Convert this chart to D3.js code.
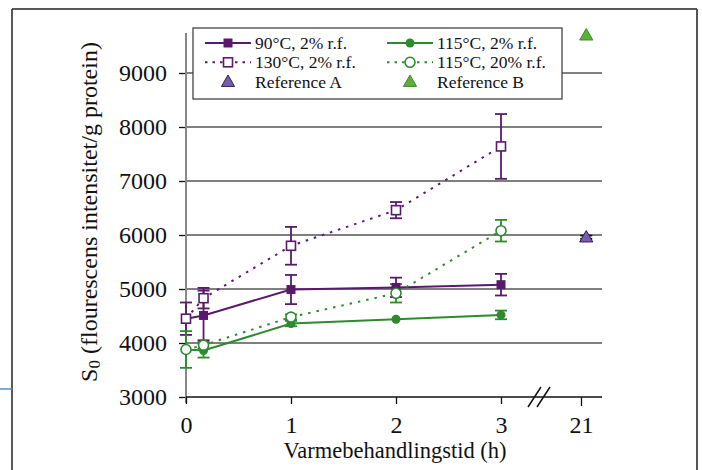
<!DOCTYPE html>
<html>
<head>
<meta charset="utf-8">
<script src="https://cdn.jsdelivr.net/npm/d3@7"></script>
<style>
  html, body { margin: 0; padding: 0; background: #fff; }
  svg { display: block; font-family: "Liberation Serif", "Times New Roman", serif; }
</style>
</head>
<body>
<svg id="chart" width="702" height="470"></svg>
<script>
// ---- data ----
const times = [0, 0.167, 1, 2, 3];
const s90 = [4450, 4510, 4990, 5030, 5080];
const e90 = [0, 460, 270, 180, 200];
const s130 = [4450, 4830, 5800, 6460, 7640];
const e130 = [300, 190, 350, 150, 600];
const s115 = [3880, 3860, 4360, 4440, 4520];
const e115 = [0, 130, 50, 0, 80];
const s115w = [3880, 3960, 4480, 4920, 6080];
const e115w = [340, 60, 50, 170, 200];
const refTime = 21.05;
const refA = [5960], eRefA = [30];
const refB = [9700], eRefB = [0];
const yTicks = [3000, 4000, 5000, 6000, 7000, 8000, 9000];
const xTicks1 = [0, 1, 2, 3];
const xTicks2 = [21];
const legendLabels = ["90°C, 2% r.f.", "130°C, 2% r.f.", "Reference A", "115°C, 2% r.f.", "115°C, 20% r.f.", "Reference B"];

const purple = "#5a1a6c";
const green = "#2e8a2e";

const svg = d3.select("#chart");

// outer frame
svg.append("line").attr("x1", 12).attr("y1", 9).attr("x2", 697).attr("y2", 9).attr("stroke", "#222").attr("stroke-width", 1.5);
svg.append("line").attr("x1", 12).attr("y1", 9).attr("x2", 12).attr("y2", 470).attr("stroke", "#222").attr("stroke-width", 1.5);
svg.append("line").attr("x1", 697).attr("y1", 9).attr("x2", 697).attr("y2", 470).attr("stroke", "#555").attr("stroke-width", 2);
svg.append("line").attr("x1", 0).attr("y1", 389).attr("x2", 12).attr("y2", 389).attr("stroke", "#4a90c8").attr("stroke-width", 1.5);

// scales
const y = d3.scaleLinear().domain([3000, 9000]).range([397, 73]);
const x1 = d3.scaleLinear().domain([0, 3]).range([186, 501]);
const x2 = d3.scaleLinear().domain([21, 22]).range([581, 686]);
const xp = v => v < 10 ? x1(v) : x2(v);

// gridlines
svg.append("g").selectAll("line").data(yTicks.filter(d => d > 3000)).join("line")
  .attr("x1", 186).attr("x2", 602).attr("y1", d => y(d)).attr("y2", d => y(d))
  .attr("stroke", "#555").attr("stroke-width", 1.3);

// y axis
const yAxis = svg.append("g").attr("transform", "translate(186,0)")
  .call(d3.axisLeft(y).tickValues(yTicks).tickSize(7).tickPadding(12).tickFormat(d3.format("d")));
yAxis.select(".domain").remove();
yAxis.selectAll("line").attr("stroke", "#111").attr("stroke-width", 1.3);
yAxis.selectAll("text").attr("font-size", 24).attr("font-family", "Liberation Serif").attr("fill", "#111");
svg.append("line").attr("x1", 186).attr("x2", 186).attr("y1", 33).attr("y2", 403).attr("stroke", "#888").attr("stroke-width", 2);

// x axis
svg.append("line").attr("x1", 186).attr("x2", 602).attr("y1", 397).attr("y2", 397).attr("stroke", "#111").attr("stroke-width", 1.3);
function styleX(g) {
  g.select(".domain").remove();
  g.selectAll("line").attr("stroke", "#111").attr("stroke-width", 1.3);
  g.selectAll("text").attr("font-size", 24).attr("font-family", "Liberation Serif").attr("fill", "#111");
}
svg.append("g").attr("transform", "translate(0,397)")
  .call(d3.axisBottom(x1).tickValues(xTicks1).tickSize(7).tickPadding(12).tickFormat(d3.format("d"))).call(styleX);
svg.append("g").attr("transform", "translate(0,397)")
  .call(d3.axisBottom(x2).tickValues(xTicks2).tickSize(9).tickPadding(10).tickFormat(d3.format("d"))).call(styleX);
// break marks
[0, 9].forEach(o => {
  svg.append("line").attr("x1", 528 + o).attr("y1", 407).attr("x2", 541 + o).attr("y2", 387)
    .attr("stroke", "#111").attr("stroke-width", 1.5);
});

// axis titles
svg.append("text").attr("x", 395).attr("y", 458).attr("text-anchor", "middle")
  .attr("font-size", 22.5).attr("fill", "#111").text("Varmebehandlingstid (h)");
const yt = svg.append("text").attr("transform", "translate(97,212) rotate(-90)").attr("text-anchor", "middle")
  .attr("font-size", 24).attr("fill", "#111");
yt.append("tspan").text("S");
yt.append("tspan").attr("font-size", 17).attr("dy", 3).text("0");
yt.append("tspan").attr("dy", -3).text(" (flourescens intensitet/g protein)");

// series
const series = [
  { v: s90, e: e90, color: purple, dash: null, marker: "sqFill", start: 1 },
  { v: s115, e: e115, color: green, dash: null, marker: "ciFill", start: 1 },
  { v: s130, e: e130, color: purple, dash: "2.5,6", marker: "sqOpen", start: 0 },
  { v: s115w, e: e115w, color: green, dash: "2.5,6", marker: "ciOpen", start: 0 }
];
const line = d3.line().x((d, i) => xp(times[i])).y(d => y(d));

function drawMarker(g, type, cx, cy, color) {
  if (type === "sqFill") g.append("rect").attr("x", cx - 4.5).attr("y", cy - 4.5).attr("width", 9).attr("height", 9).attr("fill", color);
  if (type === "sqOpen") g.append("rect").attr("x", cx - 4.5).attr("y", cy - 4.5).attr("width", 9).attr("height", 9).attr("fill", "#fff").attr("stroke", color).attr("stroke-width", 1.6);
  if (type === "ciFill") g.append("circle").attr("cx", cx).attr("cy", cy).attr("r", 4.5).attr("fill", color);
  if (type === "ciOpen") g.append("circle").attr("cx", cx).attr("cy", cy).attr("r", 5).attr("fill", "#fff").attr("stroke", color).attr("stroke-width", 1.6);
  if (type === "triA" || type === "triB") {
    g.append("path").attr("d", d3.symbol(d3.symbolTriangle, 75)()).attr("transform", `translate(${cx},${cy + 1})`)
      .attr("fill", type === "triA" ? "#7460aa" : "#5cb038").attr("stroke", type === "triA" ? "#3a1a5a" : "#3c8a28").attr("stroke-width", 1);
  }
}
function errBar(g, cx, v, e, color) {
  if (!e) return;
  g.append("line").attr("x1", cx).attr("x2", cx).attr("y1", y(v - e)).attr("y2", y(v + e)).attr("stroke", color).attr("stroke-width", 1.8);
  [v - e, v + e].forEach(t => g.append("line").attr("x1", cx - 6).attr("x2", cx + 6).attr("y1", y(t)).attr("y2", y(t)).attr("stroke", color).attr("stroke-width", 1.8));
}

const gl = svg.append("g");
series.forEach(s => {
  gl.append("path").attr("d", line(s.v)).attr("fill", "none").attr("stroke", s.color).attr("stroke-width", 2)
    .attr("stroke-dasharray", s.dash);
});
const ge = svg.append("g");
series.forEach(s => s.v.forEach((v, i) => errBar(ge, xp(times[i]), v, s.e[i], s.color)));
const gm = svg.append("g");
series.forEach(s => s.v.forEach((v, i) => { if (i >= s.start) drawMarker(gm, s.marker, xp(times[i]), y(v), s.color); }));

// references
refA.forEach((v, i) => { errBar(gm, xp(refTime), v, eRefA[i], "#111"); drawMarker(gm, "triA", xp(refTime), y(v)); });
refB.forEach((v, i) => { errBar(gm, xp(refTime), v, eRefB[i], "#111"); drawMarker(gm, "triB", xp(refTime), y(v)); });

// legend
const lg = svg.append("g");
lg.append("rect").attr("x", 193).attr("y", 28).attr("width", 369).attr("height", 71).attr("fill", "#fff").attr("stroke", "#444").attr("stroke-width", 1.3);
const legItems = [
  { col: 0, row: 0, color: purple, dash: null, marker: "sqFill" },
  { col: 0, row: 1, color: purple, dash: "2.5,5", marker: "sqOpen" },
  { col: 0, row: 2, color: purple, dash: "none", marker: "triA" },
  { col: 1, row: 0, color: green, dash: null, marker: "ciFill" },
  { col: 1, row: 1, color: green, dash: "2.5,5", marker: "ciOpen" },
  { col: 1, row: 2, color: green, dash: "none", marker: "triB" }
];
legItems.forEach((it, k) => {
  const lx = it.col === 0 ? 205 : 387;
  const cy = 43 + it.row * 19.3;
  if (it.dash !== "none") {
    lg.append("line").attr("x1", lx).attr("x2", lx + 46).attr("y1", cy).attr("y2", cy).attr("stroke", it.color)
      .attr("stroke-width", 2).attr("stroke-dasharray", it.dash);
  }
  drawMarker(lg, it.marker, lx + 23, cy, it.color);
  lg.append("text").attr("x", lx + 50).attr("y", cy + 6).attr("font-size", 17.5).attr("fill", "#111").text(legendLabels[k]);
});
</script>
</body>
</html>
